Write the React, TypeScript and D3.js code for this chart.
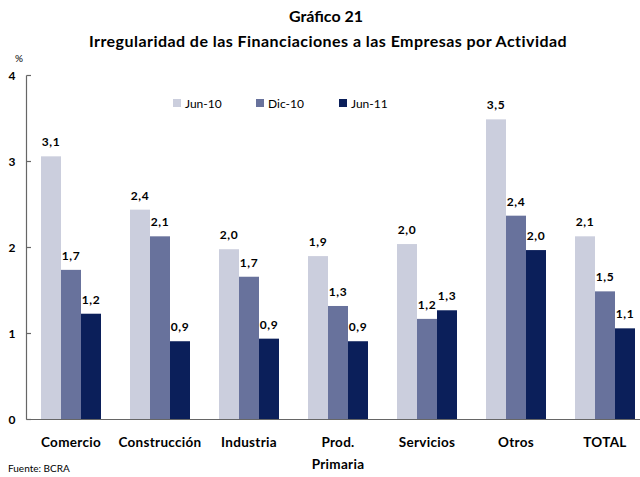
import React from "react";
import * as d3 from "d3";

const categories = ["Comercio", "Construcción", "Industria", "Prod.|Primaria", "Servicios", "Otros", "TOTAL"];
const seriesNames = ["Jun-10", "Dic-10", "Jun-11"];
const jun10 = [3.06, 2.44, 1.98, 1.9, 2.04, 3.49, 2.13];
const dic10 = [1.74, 2.13, 1.66, 1.32, 1.17, 2.37, 1.49];
const jun11 = [1.23, 0.91, 0.94, 0.91, 1.27, 1.97, 1.06];
const yTicks = [0, 1, 2, 3, 4];
const colors = ["#cbcedd", "#68729c", "#0b1f5a"];

const W = 640;
const H = 477;
const FONT = "Lato, 'Open Sans', sans-serif";

export default function App() {
  const series = [jun10, dic10, jun11];
  const y = d3.scaleLinear().domain([0, 4]).range([419.5, 75.5]);
  const p = 29 / 89;
  const x0 = d3.scaleBand<string>().domain(categories).range([26.5, 649.5]).paddingInner(p).paddingOuter(p / 2);
  const x1 = d3.scaleBand<string>().domain(seriesNames).range([0, x0.bandwidth()]);
  const fmt = (v: number) => d3.format(".1f")(v).replace(".", ",");

  return (
    <svg width={W} height={H} style={{ position: "absolute", left: 0, top: 0, background: "#fff" }} fontFamily={FONT}>
      <text x={326} y={22} textAnchor="middle" fontSize={16} fontWeight="bold">Gráfico 21</text>
      <text x={328} y={47} textAnchor="middle" fontSize={16} fontWeight="bold" letterSpacing={0.45}>Irregularidad de las Financiaciones a las Empresas por Actividad</text>
      <text x={19} y={62} textAnchor="middle" fontSize={10}>%</text>

      {/* bars */}
      {categories.map((c, i) => (
        <g key={c} transform={`translate(${x0(c)},0)`}>
          {seriesNames.map((s, j) => {
            const v = series[j][i];
            const bx = x1(s)!;
            return (
              <g key={s}>
                <rect x={bx} y={y(v)} width={x1.bandwidth()} height={y(0) - y(v)} fill={colors[j]} />
                <text x={bx + x1.bandwidth() / 2} y={y(v) - 10} textAnchor="middle" fontSize={12} fontWeight="bold" letterSpacing={0.6}>{fmt(v)}</text>
              </g>
            );
          })}
        </g>
      ))}

      {/* y axis */}
      <line x1={26.5} x2={26.5} y1={y(4)} y2={y(0)} stroke="#666" strokeWidth={1.2} />
      {yTicks.map((t) => (
        <g key={t}>
          <line x1={26.5} x2={31} y1={y(t)} y2={y(t)} stroke="#666" strokeWidth={1.2} />
          <text x={12} y={y(t) + 4} textAnchor="middle" fontSize={12} fontWeight="bold">{t}</text>
        </g>
      ))}
      {/* x axis */}
      <line x1={26.5} x2={W} y1={y(0)} y2={y(0)} stroke="#666" strokeWidth={1.2} />

      {categories.map((c) => {
        const lines = c.split("|");
        const cx = x0(c)! + x0.bandwidth() / 2;
        return (
          <text key={c} textAnchor="middle" fontSize={13.5} fontWeight="bold" letterSpacing={0.3}>
            {lines.map((l, k) => (
              <tspan key={k} x={cx} y={447 + k * 22}>{l}</tspan>
            ))}
          </text>
        );
      })}

      {/* legend */}
      {seriesNames.map((s, j) => {
        const lx = [173, 256, 339][j];
        return (
          <g key={s}>
            <rect x={lx} y={99} width={8} height={8} fill={colors[j]} />
            <text x={lx + 12} y={107.5} fontSize={12}>{s}</text>
          </g>
        );
      })}

      <text x={8} y={472} fontSize={10}>Fuente: BCRA</text>
    </svg>
  );
}
